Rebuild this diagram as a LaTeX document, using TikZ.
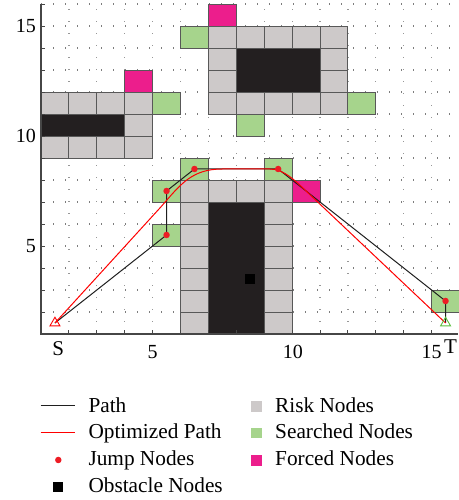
\documentclass[tikz,border=0pt]{standalone}
\usepackage{fontspec}
\setmainfont{Liberation Serif}
\usetikzlibrary{shapes.geometric}
\definecolor{riskc}{RGB}{205,201,201}
\definecolor{searchc}{RGB}{166,212,140}
\definecolor{forcec}{RGB}{236,30,140}
\definecolor{obstc}{RGB}{35,31,32}
\definecolor{edgec}{RGB}{88,88,88}
\definecolor{axisc}{RGB}{70,70,70}
\definecolor{jumpc}{RGB}{237,28,36}
\definecolor{goalc}{RGB}{90,190,60}
\definecolor{dotc}{RGB}{125,125,125}
\tikzset{
  cellbox/.style={draw=edgec, line width=0.9pt},
  risk/.style={cellbox, fill=riskc},
  searched/.style={cellbox, fill=searchc},
  forced/.style={cellbox, fill=forcec},
  obst/.style={cellbox, fill=obstc},
  hdots/.style={draw=dotc, line width=1.2pt, dash pattern=on 1.2pt off 10.8pt},
  vdots/.style={draw=dotc!80, line width=1.2pt, dash pattern=on 1.2pt off 10.8pt},
  pathline/.style={draw=black!88, line width=1pt},
  optline/.style={draw=red, line width=1pt},
  jumpdot/.style={circle, fill=jumpc, inner sep=0pt, minimum size=6.5pt},
  starttri/.style={regular polygon, regular polygon sides=3, draw=red, line width=0.9pt, inner sep=0pt, minimum size=11.5pt},
  goaltri/.style={regular polygon, regular polygon sides=3, draw=goalc, line width=0.9pt, inner sep=0pt, minimum size=11.5pt},
  ticklabel/.style={font=\fontsize{20}{22}\selectfont, inner sep=0pt},
  endlabel/.style={font=\fontsize{21}{23}\selectfont, inner sep=0pt},
  legtext/.style={font=\fontsize{21.3}{24}\selectfont, anchor=base west, inner sep=0pt},
  legsq/.style={inner sep=0pt, minimum size=10.5pt},
}
\begin{document}
\begin{tikzpicture}[x=1pt,y=1pt]
\useasboundingbox (0,0) rectangle (458,500);
\begin{scope}[shift={(13.1pt,144pt)}, x=27.9pt, y=22pt]
  % dotted grid
  \foreach \j in {2,...,16} \draw[hdots] (1,\j) -- (15.95,\j);
  \foreach \i in {2,...,15} \draw[vdots] (\i,1) -- (\i,16);
  % risk cells
  \foreach \i/\j in {1/11,2/11,3/11,4/11,4/10,1/9,2/9,3/9,4/9,
     7/14,8/14,9/14,10/14,11/14,7/11,8/11,9/11,10/11,11/11,7/12,7/13,11/12,11/13,
     6/7,7/7,8/7,9/7,6/1,6/2,6/3,6/4,6/5,6/6,9/1,9/2,9/3,9/4,9/5,9/6}
     \draw[risk] (\i,\j) rectangle ++(1,1);
  % obstacle blocks
  \draw[obst] (1,10) rectangle (4,11);
  \draw[obst] (8,12) rectangle (11,14);
  \draw[obst] (7,1) rectangle (9,7);
  % searched cells
  \foreach \i/\j in {5/11,6/14,12/11,8/10,6/8,9/8,5/7,5/5,15/2}
     \draw[searched] (\i,\j) rectangle ++(1,1);
  % forced cells
  \foreach \i/\j in {4/12,7/15,10/7}
     \draw[forced] (\i,\j) rectangle ++(1,1);
  % obstacle marker
  \node[fill=black, inner sep=0pt, minimum size=10pt] (obs) at (8.5,3.5) {};
  % axes
  \draw[axisc, line width=1.3pt] (1,16) -- (1,1) -- (15.95,1);
  \foreach \j in {2,...,16} \draw[axisc, line width=0.9pt] (1,\j) -- ++(4pt,0);
  \foreach \i in {2,...,15} \draw[axisc, line width=0.9pt] (\i,1) -- ++(0,4pt);
  \node[ticklabel, anchor=east] (l15) at ([xshift=-5pt]1,15) {15};
  \node[ticklabel, anchor=east] (l10) at ([xshift=-5pt]1,10) {10};
  \node[ticklabel, anchor=east] (l5) at ([xshift=-5pt]1,5) {5};
  \node[ticklabel, anchor=north] (b5) at ([yshift=-11pt]5,1) {5};
  \node[ticklabel, anchor=north] (b10) at ([yshift=-11pt]10.03,1) {10};
  \node[ticklabel, anchor=north] (b15) at ([yshift=-11pt]15,1) {15};
  \node[endlabel, anchor=north] (lS) at ([yshift=-7.5pt]1.62,1) {S};
  \node[endlabel, anchor=north] (lT) at ([yshift=-6pt]15.68,1) {T};
  % key points
  \coordinate (S) at (1.5,1.5);
  \coordinate (T) at (15.5,1.5);
  \coordinate (J1) at (5.5,5.5);
  \coordinate (J2) at (5.5,7.5);
  \coordinate (J3) at (6.5,8.5);
  \coordinate (J4) at (9.5,8.5);
  \coordinate (J5) at (15.5,2.5);
  \coordinate (r1) at (5.3,6.78);
  \coordinate (c1) at (6.0,7.8);
  \coordinate (c2) at (6.4,8.5);
  \coordinate (r2) at (7.5,8.5);
  \coordinate (r3) at (9.2,8.5);
  \coordinate (c3) at (9.7,8.5);
  \coordinate (c4) at (10.1,7.98);
  \coordinate (r4) at (10.5,7.5);
  % path
  \draw[pathline] (S) -- (J1) -- (J2) -- (J3) -- (J4) -- (J5) -- (T);
  % optimized path
  \draw[optline] (S) -- (r1) .. controls (c1) and (c2) .. (r2) -- (r3) .. controls (c3) and (c4) .. (r4) -- (T);
  % jump nodes
  \foreach \p in {J1,J2,J3,J4,J5} \node[jumpdot] (d\p) at (\p) {};
  \node[starttri] (s) at (S) {};
  \node[goaltri] (t) at (T) {};
\end{scope}
% legend
\coordinate (a1) at (40.7,94.3);
\coordinate (a2) at (75,94.3);
\draw[pathline] (a1) -- (a2);
\node[legtext] (tPath) at (88.3,87.7) {Path};
\coordinate (b1) at (40.7,67.7);
\coordinate (b2) at (75,67.7);
\draw[optline] (b1) -- (b2);
\node[legtext] (tOpt) at (88.3,61) {Optimized Path};
\node[jumpdot] (legjump) at (58.3,40) {};
\node[legtext] (tJump) at (88.3,34.3) {Jump Nodes};
\node[legsq, fill=black, minimum size=10pt] (legobs) at (57.7,13.3) {};
\node[legtext] (tObs) at (88.3,7.7) {Obstacle Nodes};
\node[legsq, fill=riskc] (legrisk) at (256.7,93.3) {};
\node[legtext] (tRisk) at (275,87.7) {Risk Nodes};
\node[legsq, fill=searchc] (legsearch) at (256.7,67) {};
\node[legtext] (tSearch) at (275,61) {Searched Nodes};
\node[legsq, fill=forcec] (legforce) at (256.7,39.3) {};
\node[legtext] (tForce) at (275,34.3) {Forced Nodes};
\end{tikzpicture}
\end{document}
